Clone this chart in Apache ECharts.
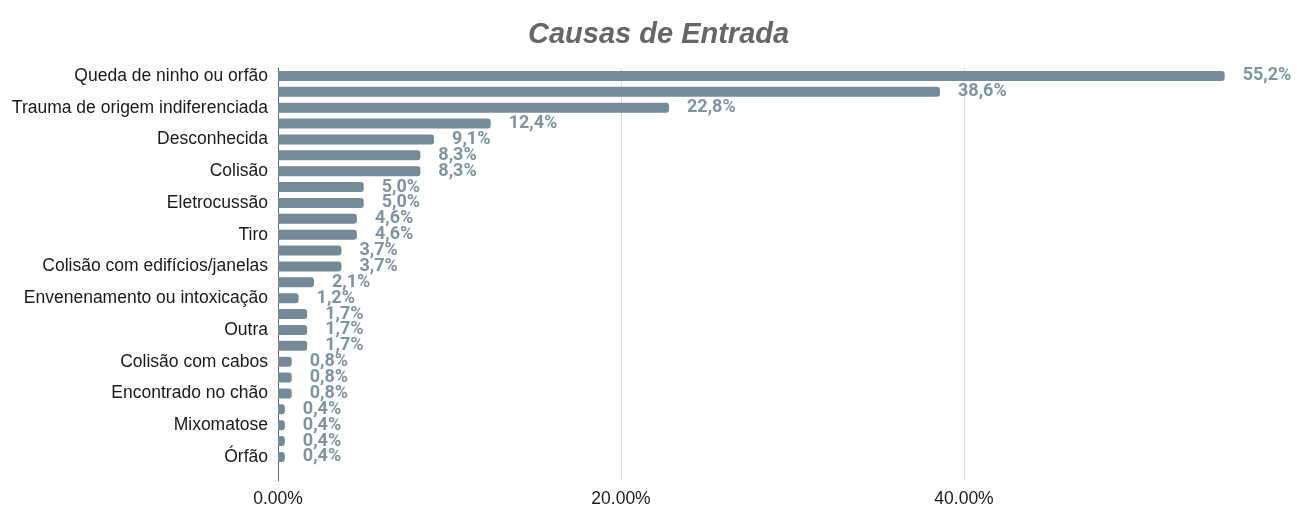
<!DOCTYPE html>
<html>
<head>
<meta charset="utf-8">
<script src="https://cdn.jsdelivr.net/npm/echarts@6/dist/echarts.min.js"></script>
<style>html,body{margin:0;padding:0;background:#fff}#c{width:1297px;height:507px}</style>
</head>
<body>
<div id="c"></div>
<script>
// Categories (only every other label is shown in the reference; hidden ones are unknown)
var categories = [
  'Queda de ninho ou orfão', '',
  'Trauma de origem indiferenciada', '',
  'Desconhecida', '',
  'Colisão', '',
  'Eletrocussão', '',
  'Tiro', '',
  'Colisão com edifícios/janelas', '',
  'Envenenamento ou intoxicação', '',
  'Outra', '',
  'Colisão com cabos', '',
  'Encontrado no chão', '',
  'Mixomatose', '',
  'Órfão'
];
var values = [55.2, 38.6, 22.8, 12.4, 9.1, 8.3, 8.3, 5.0, 5.0, 4.6, 4.6, 3.7, 3.7, 2.1, 1.2, 1.7, 1.7, 1.7, 0.8, 0.8, 0.8, 0.4, 0.4, 0.4, 0.4];
var xTicks = [0, 20, 40];
var titleText = 'Causas de Entrada';

var chart = echarts.init(document.getElementById('c'), null, {renderer: 'canvas'});
chart.setOption({
  animation: false,
  backgroundColor: '#ffffff',
  title: {
    text: titleText,
    left: 523,
    top: 15,
    textStyle: {
      fontFamily: 'Liberation Sans, Arial, sans-serif',
      fontSize: 29,
      fontWeight: 'bold',
      fontStyle: 'italic',
      color: '#666666'
    }
  },
  grid: {left: 278, right: -10, top: 68, bottom: 26.25, containLabel: false, outerBoundsMode: 'none'},
  xAxis: {
    type: 'value',
    min: 0,
    max: 60,
    interval: 20,
    axisLine: {show: false},
    axisTick: {show: false},
    splitLine: {show: true, lineStyle: {color: '#dcdcdc', width: 1}},
    axisLabel: {
      margin: 9,
      color: '#1a1a1a',
      fontFamily: 'Liberation Sans, Arial, sans-serif',
      fontSize: 17.5,
      formatter: function (v) {
        return xTicks.indexOf(v) >= 0 ? v.toFixed(2) + '%' : '';
      }
    }
  },
  yAxis: {
    type: 'category',
    data: categories,
    inverse: true,
    max: 25,
    axisLine: {show: true, lineStyle: {color: '#666666', width: 1}},
    axisTick: {show: false},
    splitLine: {show: false},
    axisLabel: {
      interval: 1,
      margin: 10,
      color: '#1a1a1a',
      fontFamily: 'Liberation Sans, Arial, sans-serif',
      fontSize: 17.5
    }
  },
  series: [{
    type: 'bar',
    data: values,
    barWidth: 10,
    itemStyle: {color: '#758a97', borderRadius: [0, 3, 3, 0]},
    label: {
      show: true,
      position: 'right',
      distance: 18,
      color: '#7e94a2',
      fontFamily: 'Roboto, sans-serif',
      fontWeight: 'bold',
      fontSize: 18,
      formatter: function (p) {
        return p.value.toFixed(1).replace('.', ',') + '%';
      }
    }
  }]
});
</script>
</body>
</html>
